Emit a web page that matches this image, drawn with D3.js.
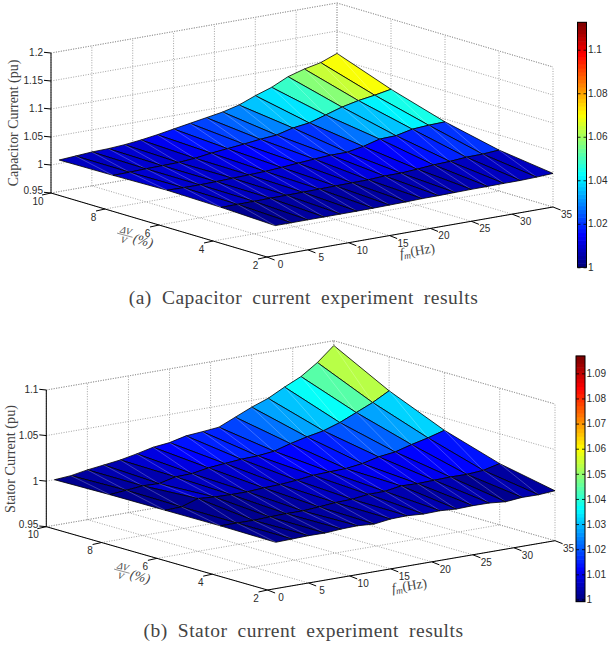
<!DOCTYPE html>
<html><head><meta charset="utf-8">
<script src="https://cdn.jsdelivr.net/npm/d3@7"></script>
<style>html,body{margin:0;padding:0;background:#fff}svg{display:block}
.t{font-family:"Liberation Sans",sans-serif;font-size:10px;fill:#2a2a2a}
.s{font-family:"Liberation Serif",serif;fill:#444}
</style></head><body><svg id="c" width="608" height="650"></svg>
<script>
// ---------- data ----------
const fmValues = [1,3,5,7,9,11,13,15,17,19,21,23,25,27,29,31,33,35];
const dvValues = [10,8,6,4,2];
const fmTicks = [0,5,10,15,20,25,30,35];
const dvTicks = [2,4,6,8,10];

const capV10 = [1.0064,1.0084,1.0105,1.0113,1.0133,1.0166,1.0209,1.026,1.031,1.036,1.041,1.0484,1.06,1.0698,1.0837,1.0923,1.0986,1.11];
const capV8  = [1.0075,1.008,1.009,1.0095,1.0101,1.0125,1.0165,1.0195,1.0225,1.026,1.0285,1.036,1.04,1.049,1.058,1.0645,1.069,1.0745];
const capV6  = [1.0095,1.009,1.009,1.0095,1.0105,1.0115,1.0125,1.0145,1.017,1.0192,1.0211,1.0211,1.0265,1.0345,1.0355,1.042,1.044,1.0449];
const capV4  = [1.0075,1.0077,1.008,1.0085,1.0087,1.009,1.0095,1.01,1.0105,1.0108,1.0125,1.0125,1.0145,1.017,1.0181,1.0205,1.021,1.0231];
const capV2  = [1.0035,1.0035,1.0036,1.0036,1.0037,1.0038,1.004,1.0045,1.005,1.0058,1.006,1.0065,1.007,1.0072,1.0075,1.0076,1.0085,1.01];
const capZTicks = [0.95,1,1.05,1.1,1.15,1.2];
const capBarTicks = [1,1.02,1.04,1.06,1.08,1.1];

const staV10 = [1.0,1.0014,1.0046,1.0069,1.0093,1.0129,1.0171,1.0191,1.0234,1.0249,1.0267,1.0346,1.0425,1.0491,1.0584,1.0668,1.0791,1.0947];
const staV8  = [1.001,1.0027,1.0045,1.0038,1.0081,1.0086,1.0118,1.0135,1.0151,1.0157,1.0177,1.023,1.0273,1.0308,1.0368,1.0447,1.0526,1.0624];
const staV6  = [1.0012,1.0018,1.0079,1.0065,1.006,1.006,1.0072,1.0078,1.0094,1.0117,1.0124,1.0129,1.0153,1.0196,1.0219,1.0269,1.0312,1.0364];
const staV4  = [1.0015,1.0015,1.0013,1.002,1.0025,1.0024,1.0037,1.0053,1.0059,1.0082,1.0084,1.0113,1.0107,1.0113,1.0118,1.0116,1.0129,1.0172];
const staV2  = [1.0008,1.0013,1.0019,1.0017,1.003,1.0035,1.0023,1.0047,1.0052,1.004,1.0045,1.0033,1.0039,1.0037,1.002,1.0037,1.0035,1.0048];
const staZTicks = [0.95,1,1.05,1.1];
const staBarTicks = [1,1.01,1.02,1.03,1.04,1.05,1.06,1.07,1.08,1.09];

// ---------- layout ----------
const panels = [
 {rows:[capV10,capV8,capV6,capV4,capV2], zTicks:capZTicks, barTicks:capBarTicks,
  zDom:[0.95,1.2], cDom:[1,1.1126],
  corner:[267,257], fEnd:[553,207], vEnd:[51,193], zH:140,
  bar:{x:577.5,w:9,y0:267.3,y1:22.3},
  zLabel:"Capacitor Current (pu)", zLabelX:18, zLabelY:123, zFont:13.9,
  fmPos:[418,255], dvPos:[137,240],
  caption:"(a) Capacitor current experiment results", capY:304, capX:303.5},
 {rows:[staV10,staV8,staV6,staV4,staV2], zTicks:staZTicks, barTicks:staBarTicks,
  zDom:[0.95,1.1], cDom:[0.9991,1.0969],
  corner:[267.5,590], fEnd:[555,540.7], vEnd:[46.3,526.7], zH:136.7,
  bar:{x:576,w:9,y0:601.7,y1:356},
  zLabel:"Stator Current (pu)", zLabelX:15, zLabelY:459, zFont:14.2,
  fmPos:[410,590], dvPos:[134,576],
  caption:"(b) Stator current experiment results", capY:637, capX:303.5}
];

function jet(t){
  const c=v=>Math.round(255*Math.max(0,Math.min(1,v)));
  return d3.rgb(c(1.5-Math.abs(4*t-3)),c(1.5-Math.abs(4*t-2)),c(1.5-Math.abs(4*t-1)));
}
const svg=d3.select("#c");

panels.forEach(p=>{
  const g=svg.append("g");
  const fx=d3.scaleLinear([0,35],[0,p.fEnd[0]-p.corner[0]]),
        fy=d3.scaleLinear([0,35],[0,p.fEnd[1]-p.corner[1]]),
        vx=d3.scaleLinear([2,10],[0,p.vEnd[0]-p.corner[0]]),
        vy=d3.scaleLinear([2,10],[0,p.vEnd[1]-p.corner[1]]),
        zy=d3.scaleLinear(p.zDom,[0,-p.zH]);
  const px=(f,v)=>p.corner[0]+fx(f)+vx(v);
  const py=(f,v,z)=>p.corner[1]+fy(f)+vy(v)+zy(z);
  const P=(f,v,z)=>[px(f,v),py(f,v,z)];
  const zMin=p.zDom[0], zMax=p.zDom[1];
  const seg=(a,b)=>g.append("line").attr("x1",a[0]).attr("y1",a[1]).attr("x2",b[0]).attr("y2",b[1]);
  const dotted=(a,b)=>seg(a,b).attr("stroke","#999").attr("stroke-width",0.9).attr("stroke-dasharray","1 1.5");

  // grid on walls and floor
  p.zTicks.forEach(z=>{dotted(P(0,10,z),P(35,10,z));dotted(P(35,10,z),P(35,2,z));});
  fmTicks.forEach(f=>{dotted(P(f,10,zMin),P(f,10,zMax));dotted(P(f,10,zMin),P(f,2,zMin));});
  dvTicks.forEach(v=>{dotted(P(35,v,zMin),P(35,v,zMax));dotted(P(0,v,zMin),P(35,v,zMin));});
  dotted(P(0,10,zMax),P(35,10,zMax));dotted(P(35,10,zMax),P(35,2,zMax));

  // surface
  const color=z=>{
    const i=Math.max(0,Math.min(63,Math.floor((z-p.cDom[0])/(p.cDom[1]-p.cDom[0])*64)));
    return jet(i/63);
  };
  const line=d3.line();
  for(let j=0;j<dvValues.length-1;j++){
    for(let i=fmValues.length-2;i>=0;i--){
      const vb=dvValues[j],vf=dvValues[j+1],f0=fmValues[i],f1=fmValues[i+1];
      const a=P(f0,vb,p.rows[j][i]),b=P(f1,vb,p.rows[j][i+1]),
            c=P(f1,vf,p.rows[j+1][i+1]),d=P(f0,vf,p.rows[j+1][i]);
      g.append("path").attr("d",line([a,b,c,d])+"Z")
       .attr("fill",color(p.rows[j+1][i])).attr("stroke","#000")
       .attr("stroke-width",0.8).attr("stroke-linejoin","round");
      seg(b,d).attr("stroke","#fff").attr("stroke-opacity",0.4).attr("stroke-width",0.6);
    }
  }

  // axes
  const axisLine=(a,b)=>seg(a,b).attr("stroke","#000").attr("stroke-width",1);
  axisLine(P(0,10,zMin),P(0,10,zMax));
  axisLine(P(0,10,zMin),P(0,2,zMin));
  axisLine(P(0,2,zMin),P(35,2,zMin));
  p.zTicks.forEach(z=>{
    const a=P(0,10,z);
    axisLine([a[0]-7,a[1]-0.7],a);
    g.append("text").attr("class","t").attr("x",a[0]-8).attr("y",a[1]+3.4-(z===zMin?2.2:0))
     .attr("text-anchor","end").text(String(z));
  });
  dvTicks.forEach(v=>{
    const a=P(0,v,zMin);
    axisLine([a[0]-9,a[1]+2],a);
    g.append("text").attr("class","t").attr("x",a[0]-(v===10?13:11.5)).attr("y",a[1]+11.5)
     .attr("text-anchor","middle").text(String(v));
  });
  fmTicks.forEach(f=>{
    const a=P(f,2,zMin);
    axisLine(a,[a[0]+7.6,a[1]+3]);
    g.append("text").attr("class","t").attr("x",a[0]+13.5).attr("y",a[1]+11)
     .attr("text-anchor","middle").text(String(f));
  });

  // axis titles
  g.append("text").attr("class","s").attr("font-size",p.zFont)
   .attr("transform",`translate(${p.zLabelX},${p.zLabelY}) rotate(-90)`)
   .attr("text-anchor","middle").text(p.zLabel);
  const fm=g.append("text").attr("class","s").attr("font-size",13.5)
   .attr("transform",`translate(${p.fmPos[0]},${p.fmPos[1]}) rotate(-9)`).attr("text-anchor","middle");
  fm.append("tspan").attr("font-style","italic").text("f");
  fm.append("tspan").attr("font-style","italic").attr("font-size",9.5).attr("dy",2).text("m");
  fm.append("tspan").attr("dy",-2).text("(Hz)");
  const dv=g.append("g").attr("transform",`translate(${p.dvPos[0]},${p.dvPos[1]}) rotate(15)`);
  dv.append("text").attr("class","s").attr("font-size",9.5).attr("x",-13).attr("y",-3).attr("text-anchor","middle").attr("font-style","italic").text("ΔV");
  dv.append("line").attr("x1",-21).attr("x2",-5).attr("y1",-1.5).attr("y2",-1.5).attr("stroke","#555").attr("stroke-width",0.6);
  dv.append("text").attr("class","s").attr("font-size",9.5).attr("x",-13).attr("y",6.5).attr("text-anchor","middle").attr("font-style","italic").text("V");
  dv.append("text").attr("class","s").attr("font-size",13.5).attr("x",-4).attr("y",3.5).attr("font-style","italic").text("(%)");

  // colour bar
  const b=p.bar;
  const by=d3.scaleLinear([p.cDom[0],p.cDom[1]],[b.y0,b.y1]);
  const bands=d3.scaleBand(d3.range(64),[b.y0,b.y1]);
  d3.range(64).forEach(i=>{
    g.append("rect").attr("x",b.x).attr("width",b.w)
     .attr("y",bands(i)-0.3).attr("height",Math.abs(bands.bandwidth())+0.6)
     .attr("fill",jet(i/63));
  });
  const tickVals=p.barTicks.filter(t=>t>=p.cDom[0]);
  const right=g.append("g").attr("transform",`translate(${b.x+b.w},0)`)
    .call(d3.axisRight(by).tickValues(tickVals).tickSizeInner(-3).tickSizeOuter(0).tickPadding(1.5).tickFormat(String));
  const left=g.append("g").attr("transform",`translate(${b.x},0)`)
    .call(d3.axisLeft(by).tickValues(tickVals).tickSizeInner(-3).tickSizeOuter(0).tickFormat(""));
  [right,left].forEach(s=>{s.select(".domain").remove();
    s.attr("font-family",null).attr("font-size",null);
    s.selectAll("line").attr("stroke","#000").attr("stroke-width",0.8);
    s.selectAll("text").attr("class","t");});
  g.append("rect").attr("x",b.x).attr("y",b.y1).attr("width",b.w).attr("height",b.y0-b.y1)
   .attr("fill","none").attr("stroke","#000").attr("stroke-width",1);

  // caption
  g.append("text").attr("class","s").attr("font-size",19.5).attr("letter-spacing",0.5).attr("word-spacing",4.7)
   .attr("x",p.capX).attr("y",p.capY).attr("text-anchor","middle").text(p.caption);
});
</script></body></html>
